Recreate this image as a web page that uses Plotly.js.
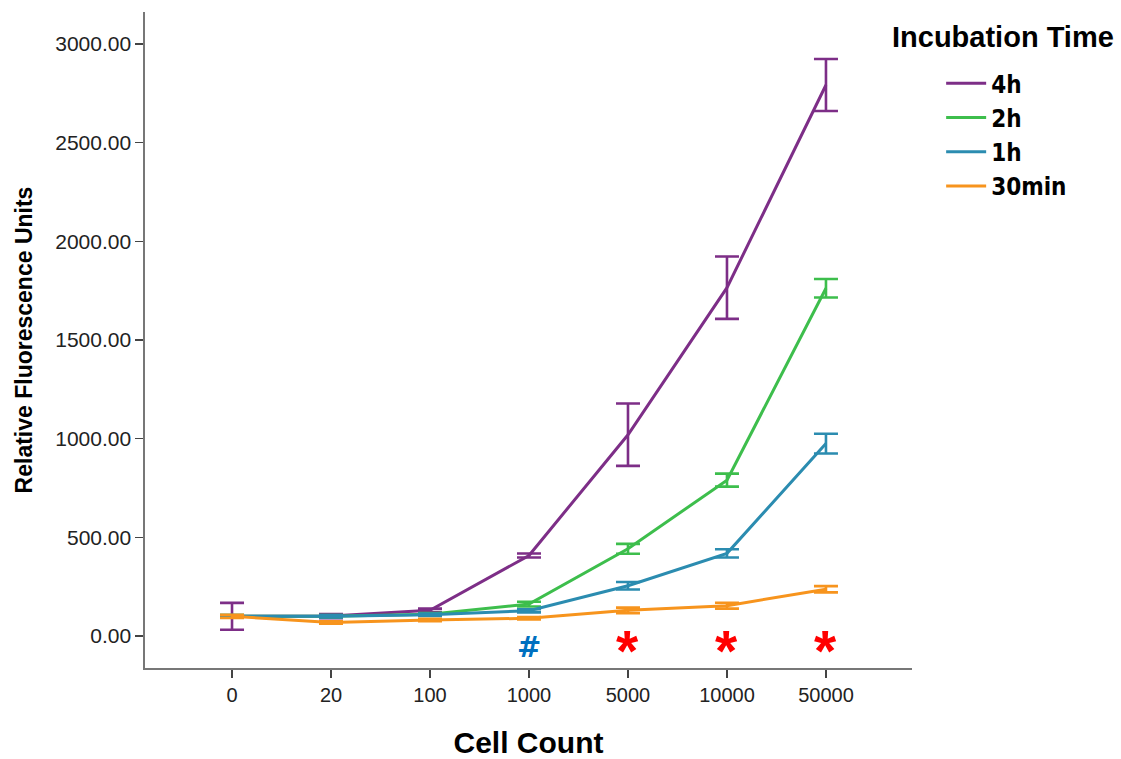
<!DOCTYPE html>
<html>
<head>
<meta charset="utf-8">
<script src="https://cdn.plot.ly/plotly-3.0.1.min.js"></script>
<style>
  html, body { margin: 0; padding: 0; background: #ffffff; }
  #chart { width: 1121px; height: 759px; }
</style>
</head>
<body>
<div id="chart"></div>
<script>
// ---- Data ----
var categories = ['0', '20', '100', '1000', '5000', '10000', '50000'];

var seriesNames = ['4h', '2h', '1h', '30min'];

var mean4h   = [100, 101, 130, 408, 1020, 1765, 2792];
var err4h    = [68, 11, 9, 10, 158, 158, 132];

var mean2h   = [100, 100, 110, 162, 442, 790, 1762];
var err2h    = [6, 6, 6, 12, 25, 33, 47];

var mean1h   = [100, 100, 108, 128, 255, 419, 975];
var err1h    = [6, 6, 6, 8, 19, 21, 50];

var mean30m  = [100, 69, 81, 90, 130, 154, 237];
var err30m   = [8, 6, 6, 6, 14, 15, 16];

// significance markers under the x positions
var sigCategories = ['1000', '5000', '10000', '50000'];
var sigSymbols    = ['#', '*', '*', '*'];
var sigValues     = [-55, -55, -55, -55];

var yTickValues = [0, 500, 1000, 1500, 2000, 2500, 3000];

// ---- Styles ----
var colors = ['#7D2E87', '#3DBE4C', '#2B8CB0', '#F7941D'];
var sigColors = ['#0070C0', '#FF0000', '#FF0000', '#FF0000'];
var means = [mean4h, mean2h, mean1h, mean30m];
var errs  = [err4h, err2h, err1h, err30m];

var boldFont = 'Liberation Sans, Arial, sans-serif';
var narrowFont = 'Liberation Sans Narrow, Arial Narrow, DejaVu Sans Condensed, Liberation Sans, sans-serif';

var traces = seriesNames.map(function (name, i) {
  return {
    type: 'scatter',
    mode: 'lines',
    name: name,
    legendgroup: name,
    x: categories,
    y: means[i],
    line: { color: colors[i], width: 3 },
    error_y: {
      type: 'data',
      array: errs[i],
      visible: true,
      color: colors[i],
      thickness: 2.6,
      width: 12
    },
    hoverinfo: 'x+y+name'
  };
});

var annotations = sigCategories.map(function (c, i) {
  var isStar = sigSymbols[i] === '*';
  return {
    x: categories.indexOf(c), y: sigValues[i], xref: 'x', yref: 'y',
    text: sigSymbols[i],
    showarrow: false,
    xanchor: 'center', yanchor: 'middle',
    yshift: isStar ? -4 : 0,
    font: {
      family: isStar ? boldFont : 'DejaVu Sans, Liberation Sans, sans-serif',
      size: isStar ? 57 : 29,
      color: sigColors[i],
      weight: 'bold'
    }
  };
});

annotations.push({
  xref: 'paper', yref: 'paper',
  x: 0.971, y: 0.962,
  xanchor: 'left', yanchor: 'middle',
  text: 'Incubation Time',
  showarrow: false,
  font: { family: boldFont, size: 29, color: '#000000', weight: 'bold' }
});

var layout = {
  width: 1121,
  height: 759,
  paper_bgcolor: '#ffffff',
  plot_bgcolor: '#ffffff',
  margin: { l: 145, r: 209, t: 12, b: 91 },
  showlegend: true,
  legend: {
    x: 1.038, y: 0.925, xanchor: 'left', yanchor: 'top',
    font: { family: narrowFont, size: 24, color: '#000000', weight: 'bold' },
    tracegroupgap: 0,
    bgcolor: 'rgba(0,0,0,0)',
    itemwidth: 40
  },
  xaxis: {
    type: 'category',
    categoryorder: 'array',
    categoryarray: categories,
    range: [-0.879, 6.869],
    showline: true, linecolor: '#777777', linewidth: 1.6,
    showgrid: false, zeroline: false,
    ticks: 'outside', ticklen: 8, tickwidth: 1.6, tickcolor: '#444444',
    tickfont: { family: 'Liberation Sans, Arial, sans-serif', size: 20, color: '#222222' },
    title: {
      text: 'Cell Count',
      font: { family: boldFont, size: 30, color: '#000000', weight: 'bold' },
      standoff: 29
    }
  },
  yaxis: {
    range: [-162, 3162],
    tickvals: yTickValues,
    tickformat: '.2f',
    showline: true, linecolor: '#777777', linewidth: 1.6,
    showgrid: false, zeroline: false,
    ticks: 'outside', ticklen: 8, tickwidth: 1.6, tickcolor: '#444444',
    tickfont: { family: 'Liberation Sans, Arial, sans-serif', size: 21, color: '#222222' },
    title: {
      text: 'Relative Fluorescence Units',
      font: { family: boldFont, size: 23, color: '#000000', weight: 'bold' },
      standoff: 16
    }
  },
  annotations: annotations
};

Plotly.newPlot('chart', traces, layout, { displayModeBar: false, staticPlot: true });
</script>
</body>
</html>
